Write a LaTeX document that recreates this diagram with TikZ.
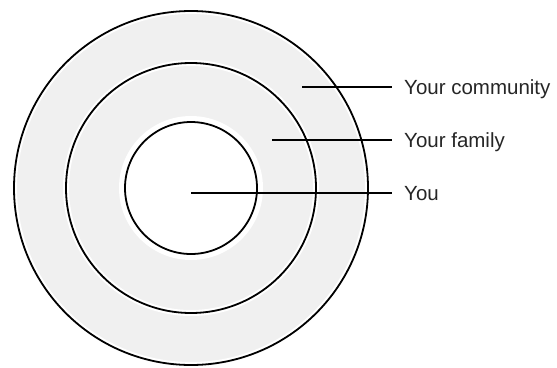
\documentclass[tikz,border=0pt]{standalone}
\usepackage{fontspec}
\setmainfont{Liberation Sans}
\begin{document}
\begin{tikzpicture}[x=1pt, y=-1pt,
    ring/.style={draw=black, line width=1.8pt},
    halo/.style={draw=white, line width=6pt},
    leader/.style={draw=black, line width=1.8pt},
    legend/.style={font=\fontsize{20.5}{24}\selectfont, text=black!85, anchor=base west, inner sep=0pt}]
    \useasboundingbox (0,0) rectangle (557,367);

    % Disques
    \fill[gray!12] (191,188) circle (177);
    \fill[white] (191,188) circle (72);
    \foreach \r in {177,125} \draw[halo] (191,188) circle (\r);
    \foreach \r in {177,125,66} \draw[ring] (191,188) circle (\r);

    % L\'egendes
    \node[legend] (community) at (404,94.4) {Your community};
    \node[legend] (family) at (404,147.4) {Your family};
    \node[legend] (you) at (404,200.4) {You};

    % Traits
    \coordinate (pc) at (302,87);
    \coordinate (pf) at (272,140);
    \coordinate (py) at (191,193);
    \draw[leader] (pc) -- ([xshift=-12pt]community.west |- pc);
    \draw[leader] (pf) -- ([xshift=-12pt]family.west |- pf);
    \draw[leader] (py) -- ([xshift=-12pt]you.west |- py);
\end{tikzpicture}
\end{document}
